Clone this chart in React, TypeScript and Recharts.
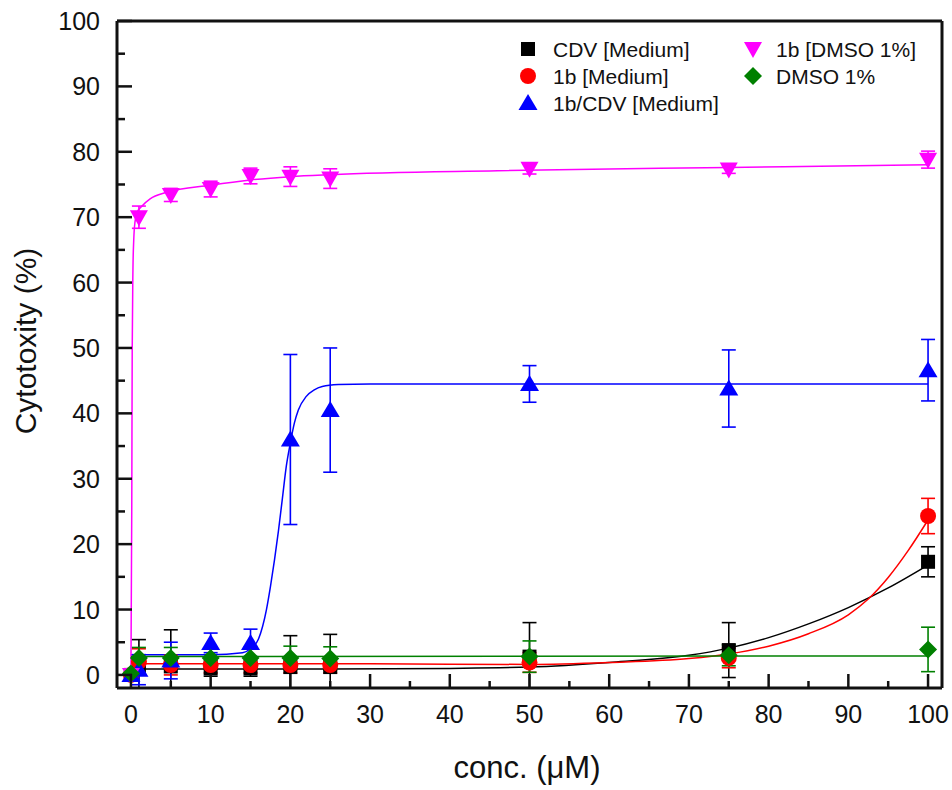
import { ComposedChart, Line, Scatter, ErrorBar, XAxis, YAxis } from 'recharts';

const FONT = '"Liberation Sans", Arial, Helvetica, sans-serif';

// concentrations (µM) shared by all measured series
const conc = [0, 1, 5, 10, 15, 20, 25, 50, 75, 100];

const cdvMedium = [0, 1.2, 1.3, 1.0, 1.0, 1.2, 1.2, 2.8, 3.8, 17.3];
const cdvMediumErr = [0.5, 4.2, 5.6, 1.2, 1.2, 4.8, 5.0, 5.2, 4.2, 2.3];

const b1Medium = [0, 2.0, 1.5, 1.5, 1.5, 1.5, 1.5, 1.9, 2.6, 24.3];
const b1MediumErr = [0.5, 2.0, 1.5, 1.2, 1.2, 1.2, 1.2, 1.5, 1.5, 2.7];

const b1CdvMedium = [0, 0.8, 2.2, 4.9, 4.9, 36.0, 40.5, 44.5, 43.8, 46.6];
const b1CdvMediumErr = [0.5, 2.3, 2.8, 1.5, 2.1, 13.0, 9.5, 2.8, 5.9, 4.7];

const b1Dmso = [0, 70.0, 73.4, 74.3, 76.3, 76.2, 75.9, 77.4, 77.3, 78.8];
const b1DmsoErr = [0.3, 1.7, 1.0, 1.2, 1.2, 1.5, 1.5, 0.8, 0.6, 1.3];

const dmso = [0.2, 2.6, 2.6, 2.6, 2.6, 2.6, 2.5, 2.8, 3.0, 3.9];
const dmsoErr = [0.5, 1.6, 1.6, 1.5, 1.6, 1.8, 1.8, 2.4, 1.6, 3.4];

// fitted curves, sampled along x
const fitCdvX = [0, 25, 40, 50, 60, 70, 75, 80, 85, 90, 95, 100];
const fitCdvY = [0.9, 0.9, 1.0, 1.2, 1.9, 3.0, 4.1, 5.7, 7.8, 10.3, 13.3, 16.8];

const fit1bX = [0, 30, 50, 60, 70, 75, 80, 85, 90, 92.5, 95, 97.5, 100];
const fit1bY = [1.7, 1.7, 1.6, 1.9, 2.5, 3.2, 4.4, 6.3, 9.2, 11.6, 14.9, 19.0, 23.7];

const fitComboX = [0, 10, 14, 15, 16, 17, 17.5, 18, 18.5, 19, 19.5, 20, 20.5, 21, 22, 23, 24, 26, 30, 100];
const fitComboY = [3.1, 3.1, 3.4, 4.0, 5.5, 10.0, 13.5, 17.5, 22.0, 27.0, 32.0, 35.5, 38.5, 40.5, 42.6, 43.6, 44.1, 44.4, 44.5, 44.5];

const fitDmso1bX = [0, 0.1, 0.16, 0.25, 0.35, 0.5, 0.8, 1.3, 2.4, 4.5, 10, 15, 20, 25, 46, 75, 100];
const fitDmso1bY = [1.0, 25, 50, 62, 66.5, 69.2, 70.8, 71.6, 72.8, 73.8, 74.9, 75.7, 76.2, 76.5, 77.1, 77.6, 78.0];

const fitDmsoX = [0, 100];
const fitDmsoY = [2.8, 2.9];

const xTicks = [0, 5, 10, 15, 20, 25, 30, 35, 40, 45, 50, 55, 60, 65, 70, 75, 80, 85, 90, 95, 100];
const yTicks = [0, 5, 10, 15, 20, 25, 30, 35, 40, 45, 50, 55, 60, 65, 70, 75, 80, 85, 90, 95, 100];

const legendLabels = ['CDV [Medium]', '1b [Medium]', '1b/CDV [Medium]', '1b [DMSO 1%]', 'DMSO 1%'];

const toPoints = (ys: number[], errs: number[]) => conc.map((x, i) => ({ x, y: ys[i], err: errs[i] }));
const toCurve = (xs: number[], ys: number[]) => xs.map((x, i) => ({ x, y: ys[i] }));

type Kind = 'square' | 'circle' | 'up' | 'down' | 'diamond';

function drawMarker(kind: Kind, cx: number, cy: number, color: string) {
  switch (kind) {
    case 'square':
      return <rect x={cx - 7} y={cy - 7} width={14} height={14} fill={color} />;
    case 'circle':
      return <circle cx={cx} cy={cy} r={8} fill={color} />;
    case 'up':
      return <polygon points={`${cx},${cy - 9} ${cx - 9.5},${cy + 7} ${cx + 9.5},${cy + 7}`} fill={color} />;
    case 'down':
      return <polygon points={`${cx - 9},${cy - 7} ${cx + 9},${cy - 7} ${cx},${cy + 9}`} fill={color} />;
    default:
      return <polygon points={`${cx},${cy - 9} ${cx + 9},${cy} ${cx},${cy + 9} ${cx - 9},${cy}`} fill={color} />;
  }
}

const shapeFor = (kind: Kind, color: string) => (props: any) => drawMarker(kind, props.cx, props.cy, color);

const series = [
  { name: legendLabels[0], color: '#000000', kind: 'square' as Kind, data: toPoints(cdvMedium, cdvMediumErr), fit: toCurve(fitCdvX, fitCdvY) },
  { name: legendLabels[1], color: '#ff0000', kind: 'circle' as Kind, data: toPoints(b1Medium, b1MediumErr), fit: toCurve(fit1bX, fit1bY) },
  { name: legendLabels[2], color: '#0000ff', kind: 'up' as Kind, data: toPoints(b1CdvMedium, b1CdvMediumErr), fit: toCurve(fitComboX, fitComboY) },
  { name: legendLabels[3], color: '#ff00ff', kind: 'down' as Kind, data: toPoints(b1Dmso, b1DmsoErr), fit: toCurve(fitDmso1bX, fitDmso1bY) },
  { name: legendLabels[4], color: '#008000', kind: 'diamond' as Kind, data: toPoints(dmso, dmsoErr), fit: toCurve(fitDmsoX, fitDmsoY) },
];

// plot frame in pixels
const PLOT = { left: 117, top: 21, right: 942, bottom: 688 };

// ticks point into the plot; labels only on the tens
const XTick = (props: any) => {
  const { x, payload } = props;
  const y = PLOT.bottom;
  const major = payload.value % 10 === 0;
  return (
    <g>
      <line x1={x} y1={y} x2={x} y2={y - (major ? 14 : 7)} stroke="#111" strokeWidth={2.5} />
      {major && (
        <text x={x} y={y + 35} textAnchor="middle" fontSize={25} fontFamily={FONT} fill="#111">
          {payload.value}
        </text>
      )}
    </g>
  );
};

const YTick = (props: any) => {
  const { y, payload } = props;
  const x = PLOT.left;
  const major = payload.value % 10 === 0;
  return (
    <g>
      <line x1={x} y1={y} x2={x + (major ? 15 : 8)} y2={y} stroke="#111" strokeWidth={2.5} />
      {major && (
        <text x={x - 17} y={y + 9} textAnchor="end" fontSize={25} fontFamily={FONT} fill="#111">
          {payload.value}
        </text>
      )}
    </g>
  );
};

function ChartLegend() {
  const cols = [
    { mx: 528, tx: 553 },
    { mx: 753, tx: 776 },
  ];
  const rows = [49, 76, 103];
  const slots = [
    [0, 0],
    [0, 1],
    [0, 2],
    [1, 0],
    [1, 1],
  ];
  return (
    <g>
      {series.map((s, i) => {
        const [c, r] = slots[i];
        return (
          <g key={s.name}>
            {drawMarker(s.kind, cols[c].mx, rows[r], s.color)}
            <text x={cols[c].tx} y={rows[r] + 7.5} fontSize={21} fontFamily={FONT} fill="#111">
              {s.name}
            </text>
          </g>
        );
      })}
    </g>
  );
}

export default function App() {
  return (
    <div style={{ position: 'absolute', left: 0, top: 0, background: '#fff' }}>
      {/* error bars are cut at the frame like the fit lines */}
      <style>{`.recharts-errorBars { clip-path: url(#plot-frame-clip); }`}</style>
      <ComposedChart width={952} height={790} margin={{ top: 20, right: 9, left: 116, bottom: 101 }}>
        <defs>
          <clipPath id="plot-frame-clip">
            <rect x={PLOT.left} y={PLOT.top} width={PLOT.right - PLOT.left} height={PLOT.bottom - PLOT.top} />
          </clipPath>
        </defs>
        <XAxis
          dataKey="x"
          type="number"
          domain={[-1.75, 101.75]}
          ticks={xTicks}
          interval={0}
          height={1}
          tickSize={0}
          tickMargin={0}
          tick={<XTick />}
          axisLine={{ stroke: '#111', strokeWidth: 3 }}
          tickLine={false}
          allowDataOverflow
        />
        <XAxis
          xAxisId="top"
          orientation="top"
          type="number"
          domain={[-1.75, 101.75]}
          height={1}
          tick={false}
          tickLine={false}
          axisLine={{ stroke: '#111', strokeWidth: 3 }}
        />
        <YAxis
          type="number"
          domain={[-2, 100]}
          ticks={yTicks}
          interval={0}
          width={1}
          tickSize={0}
          tickMargin={0}
          tick={<YTick />}
          axisLine={{ stroke: '#111', strokeWidth: 3 }}
          tickLine={false}
          allowDataOverflow
        />
        <YAxis
          yAxisId="right"
          orientation="right"
          type="number"
          domain={[-2, 100]}
          width={1}
          tick={false}
          tickLine={false}
          axisLine={{ stroke: '#111', strokeWidth: 3 }}
        />

        {series.map((s) => (
          <Line
            key={`fit-${s.name}`}
            data={s.fit}
            dataKey="y"
            type="monotone"
            stroke={s.color}
            strokeWidth={1.5}
            dot={false}
            activeDot={false}
            isAnimationActive={false}
          />
        ))}

        {series.map((s) => (
          <Scatter
            key={`pts-${s.name}`}
            name={s.name}
            data={s.data}
            dataKey="y"
            shape={shapeFor(s.kind, s.color)}
            isAnimationActive={false}
          >
            <ErrorBar dataKey="err" direction="y" width={7} stroke={s.color} strokeWidth={1.6} />
          </Scatter>
        ))}

        <ChartLegend />

        <text x={527} y={778} textAnchor="middle" fontSize={31} fontFamily={FONT} fill="#111">
          conc. (μM)
        </text>
        <text
          x={36}
          y={341}
          transform="rotate(-90, 36, 341)"
          textAnchor="middle"
          fontSize={30}
          fontFamily={FONT}
          fill="#111"
        >
          Cytotoxity (%)
        </text>
      </ComposedChart>
    </div>
  );
}
